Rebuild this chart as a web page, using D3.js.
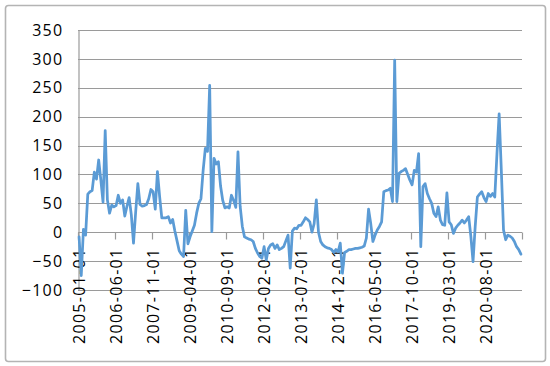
<!DOCTYPE html>
<html>
<head>
<meta charset="utf-8">
<script src="https://cdn.jsdelivr.net/npm/d3@7"></script>
<style>
  html, body { margin: 0; padding: 0; background: #fff; }
  svg { display: block; }
  text { font-family: "Open Sans", "Liberation Sans", sans-serif; fill: #000; }
</style>
</head>
<body>
<svg id="chart" width="550" height="366"></svg>
<script>
// ---- data ----
const startMonth = "2005-01-01";
const monthCount = 204;
const values = [
  -8, -75, 5, -5, 66, 70, 72, 104, 92, 125, 90, 52,
  176, 56, 33, 47, 44, 46, 64, 50, 56, 28, 45, 60,
  30, -19, 35, 84, 48, 45, 46, 48, 58, 74, 70, 40,
  105, 62, 25, 25, 25, 27, 16, 22, 2, -15, -32, -38,
  -42, 38, -20, -8, 2, 12, 33, 50, 58, 107, 145, 140,
  254, 1, 128, 118, 122, 80, 55, 42, 44, 42, 64, 55,
  43, 139, 45, 10, -8, -10, -12, -13, -16, -28, -36, -42,
  -45, -25, -48, -28, -22, -20, -28, -22, -30, -28, -25, -15,
  -5, -62, 2, 7, 6, 12, 12, 18, 25, 22, 18, 0,
  15, 56, 0, -16, -22, -25, -27, -28, -30, -35, -30, -34,
  -19, -71, -35, -33, -30, -30, -29, -28, -28, -27, -26, -24,
  -10, 40, 15, -16, -5, 4, 10, 18, 70, 72, 73, 76,
  53, 298, 53, 102, 105, 107, 110, 100, 90, 82, 107, 104,
  136, -25, 79, 84, 67, 58, 50, 33, 27, 44, 21, 13,
  12, 68, 18, 13, -2, 7, 12, 16, 21, 16, 21, 27,
  -7, -51, 10, 61, 66, 70, 60, 53, 67, 62, 67, 61,
  136, 205, 107, 4, -13, -5, -7, -10, -16, -25, -30, -38
];
const tickLabels = [
  "2005-01-01", "2006-06-01", "2007-11-01", "2009-04-01",
  "2010-09-01", "2012-02-01", "2013-07-01", "2014-12-01",
  "2016-05-01", "2017-10-01", "2019-03-01", "2020-08-01"
];
const yTicks = [-100, -50, 0, 50, 100, 150, 200, 250, 300, 350];

// ---- categories (month list) ----
const fmt = d3.timeFormat("%Y-%m-%d");
const start = d3.timeParse("%Y-%m-%d")(startMonth);
const categories = d3.timeMonth.range(start, d3.timeMonth.offset(start, monthCount)).map(fmt);

// ---- layout ----
const svg = d3.select("#chart");
const plotLeft = 78, plotRight = 522, plotTop = 30, plotBottom = 290;

svg.append("rect")
  .attr("x", 5.5).attr("y", 5.5).attr("width", 540).attr("height", 356)
  .attr("rx", 3)
  .attr("fill", "#fff").attr("stroke", "#b4b4b4").attr("stroke-width", 1.6);

const x = d3.scaleBand().domain(categories).range([plotLeft, plotRight]).paddingInner(0).paddingOuter(0);
const y = d3.scaleLinear().domain([-100, 350]).range([plotBottom, plotTop]);
const cx = c => x(c) + x.bandwidth() / 2;

// gridlines
svg.append("g").selectAll("line").data(yTicks).join("line")
  .attr("x1", plotLeft).attr("x2", plotRight)
  .attr("y1", d => Math.round(y(d)) + 0.5).attr("y2", d => Math.round(y(d)) + 0.5)
  .attr("stroke", "#9a9a9a").attr("stroke-width", 1.2);

// y axis
const yAxis = svg.append("g")
  .attr("transform", `translate(${plotLeft + 0.5},0)`)
  .call(d3.axisLeft(y).tickValues(yTicks).tickSize(0).tickPadding(15).tickFormat(d3.format("d")));
yAxis.select(".domain").attr("stroke", "#9a9a9a").attr("stroke-width", 1.2);
yAxis.selectAll("text")
  .attr("font-family", "'Open Sans', sans-serif")
  .attr("font-size", "16px")
  .attr("letter-spacing", "1.3px")
  .attr("fill", "#000");

// x axis at zero
const y0 = Math.round(y(0)) + 0.5;
const tickIdx = tickLabels.map(t => categories.indexOf(t));
const tickPos = tickIdx.map(i => x(categories[i])).concat([plotRight]);
const xg = svg.append("g");
xg.append("line").attr("x1", plotLeft).attr("x2", plotRight).attr("y1", y0).attr("y2", y0)
  .attr("stroke", "#9a9a9a").attr("stroke-width", 1.2);
xg.selectAll("line.tick").data(tickPos).join("line").attr("class", "tick")
  .attr("x1", d => Math.round(d) + 0.5).attr("x2", d => Math.round(d) + 0.5)
  .attr("y1", y0).attr("y2", y0 + 7)
  .attr("stroke", "#9a9a9a").attr("stroke-width", 1.2);
xg.selectAll("text").data(tickLabels).join("text")
  .attr("transform", d => `translate(${cx(d) + 6},${y0 + 15}) rotate(-90)`)
  .attr("text-anchor", "end")
  .attr("font-size", "16px")
  .attr("letter-spacing", "1.3px")
  .text(d => d);

// line
const line = d3.line()
  .x((d, i) => cx(categories[i]))
  .y(d => y(d));
svg.append("path")
  .datum(values)
  .attr("d", line)
  .attr("fill", "none")
  .attr("stroke", "#5B9BD5")
  .attr("stroke-width", 2.75)
  .attr("stroke-linejoin", "round")
  .attr("stroke-linecap", "round");
</script>
</body>
</html>
